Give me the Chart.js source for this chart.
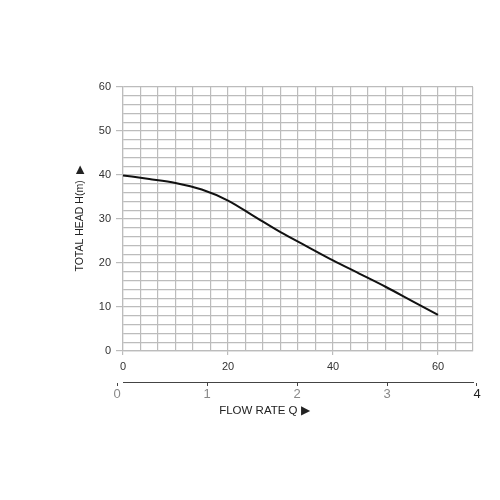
<!DOCTYPE html>
<html>
<head>
<meta charset="utf-8">
<script src="https://cdn.jsdelivr.net/npm/chart.js@4"></script>
<style>
    html, body { margin: 0; padding: 0; background: #fff; }
</style>
</head>
<body>
<canvas id="chart" width="500" height="500"></canvas>
<script>
// pump curve
const flow = [0, 5, 10, 15, 20, 25, 30, 35, 40, 45, 50, 55, 60];
const head = [39.9, 39.1, 38.2, 36.7, 34.2, 30.6, 27.0, 23.8, 20.6, 17.6, 14.6, 11.4, 8.2];

const flowLabels = [0, 20, 40, 60];
const headLabels = [0, 10, 20, 30, 40, 50, 60];
const lowerLabels = [0, 1, 2, 3, 4];

const FLOW_MAX = 200 / 3;
const FLOW_STEP = 10 / 3;
const GRID = '#bcbcbc';

const isLabel = (list, v) => list.some(l => Math.abs(l - v) < 1e-6);

new Chart(document.getElementById('chart'), {
    type: 'line',
    data: {
        datasets: [{
            data: flow.map((x, i) => ({ x, y: head[i] })),
            borderColor: '#111',
            borderWidth: 2,
            pointRadius: 0,
            fill: false,
            cubicInterpolationMode: 'monotone',
            xAxisID: 'x',
            yAxisID: 'y',
        }],
    },
    options: {
        responsive: false,
        animation: false,
        layout: { padding: { left: 70, right: 27, top: 87, bottom: 78 } },
        plugins: {
            legend: { display: false },
            tooltip: { enabled: false },
        },
        scales: {
            x: {
                type: 'linear',
                position: 'bottom',
                weight: 0,
                min: 0,
                max: FLOW_MAX,
                afterBuildTicks: (scale) => {
                    scale.ticks = [];
                    for (let i = 0; i <= 20; i++) scale.ticks.push({ value: i * FLOW_STEP });
                },
                afterFit: (scale) => { scale.height = 31; },
                grid: {
                    color: GRID,
                    lineWidth: 1.2,
                    tickLength: 4,
                    tickColor: (ctx) => (ctx.tick && isLabel(flowLabels, ctx.tick.value) ? GRID : 'transparent'),
                },
                border: { color: GRID, width: 1.2 },
                ticks: {
                    autoSkip: false,
                    maxRotation: 0,
                    padding: 5,
                    color: '#333',
                    font: { family: 'Liberation Sans', size: 11 },
                    callback: (v) => (isLabel(flowLabels, v) ? Math.round(v) : ''),
                },
            },
            x2: {
                type: 'linear',
                position: 'bottom',
                weight: 1,
                // 0 sits a bit left of the grid and 4 a bit right of it
                min: 6 / 90,
                max: 6 / 90 + 350 / 90,
                afterBuildTicks: (scale) => {
                    scale.ticks = lowerLabels.map(value => ({ value }));
                },
                afterFit: (scale) => { scale.height = 40; },
                grid: {
                    drawOnChartArea: false,
                    tickLength: 4,
                    tickColor: '#444',
                },
                border: { color: '#444', width: 1 },
                ticks: {
                    autoSkip: false,
                    maxRotation: 0,
                    padding: 1,
                    color: (ctx) => (ctx.tick && ctx.tick.value === 4 ? '#222' : '#888'),
                    font: { family: 'Liberation Sans', size: 13 },
                    callback: (v) => String(v),
                },
                title: {
                    display: true,
                    text: 'FLOW RATE Q \u25B6' + ' '.repeat(21),
                    color: '#222',
                    font: { family: 'Liberation Sans', size: 11.5 },
                    padding: { top: 2, bottom: 4 },
                },
            },
            y: {
                type: 'linear',
                min: 0,
                max: 60,
                afterFit: (scale) => { scale.width = 53; },
                grid: {
                    color: GRID,
                    lineWidth: 1.2,
                    tickLength: 7,
                    tickColor: (ctx) => (ctx.tick && isLabel(headLabels, ctx.tick.value) ? GRID : 'transparent'),
                },
                border: { color: GRID, width: 1.2 },
                ticks: {
                    stepSize: 2,
                    autoSkip: false,
                    padding: 5,
                    color: '#333',
                    font: { family: 'Liberation Sans', size: 11 },
                    callback: (v) => (isLabel(headLabels, v) ? v : ''),
                },
                title: {
                    display: true,
                    text: 'TOTAL HEAD H(m)  \u25B6',
                    color: '#222',
                    font: { family: 'Liberation Sans', size: 10.5 },
                    padding: { top: 4, bottom: 4 },
                },
            },
        },
    },
});
</script>
</body>
</html>
